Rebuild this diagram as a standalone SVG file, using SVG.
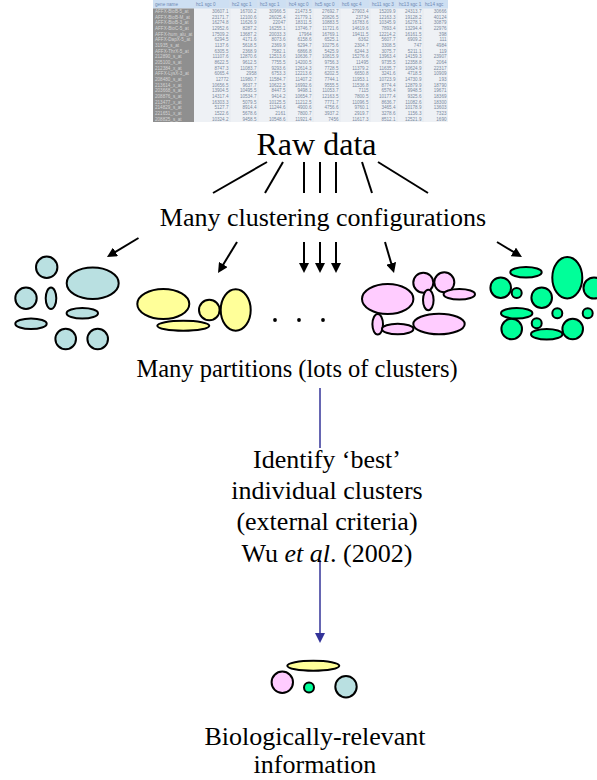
<svg xmlns="http://www.w3.org/2000/svg" width="597" height="780" viewBox="0 0 597 780">
<style>
.t{font-family:"Liberation Serif","Times New Roman",serif;fill:#000;text-anchor:middle}
.c{stroke:#000;stroke-width:2}
.ss{font-family:"Liberation Sans",Arial,sans-serif;font-size:4.6px}
.d{fill:#7a8aa0;text-anchor:end}
.n{fill:#d4d4d4}
.h{fill:#6f89b3}
.bl{fill:#b9e0e1;stroke:#000;stroke-width:2}
.ye{fill:#ffff99;stroke:#000;stroke-width:2}
.pk{fill:#ffccff;stroke:#000;stroke-width:2}
.gr{fill:#00ff99;stroke:#000;stroke-width:2}
</style>
<defs>
<marker id="ah" markerUnits="userSpaceOnUse" markerWidth="10" markerHeight="10" refX="2" refY="5" orient="auto"><path d="M0,0 L10,5 L0,10 z" fill="#000"/></marker>
<marker id="bh" markerUnits="userSpaceOnUse" markerWidth="10" markerHeight="10" refX="3" refY="5" orient="auto"><path d="M0,0 L10,5 L0,10 z" fill="#333399"/></marker>
</defs>
<rect width="597" height="780" fill="#fff"/>

<g id="rawdata-table" class="ss">
<rect x="153" y="0" width="295" height="122" fill="#eef1f5"/>
<rect x="153" y="0" width="295" height="8.5" fill="#cddff2"/>
<rect x="153" y="8.5" width="41" height="113.5" fill="#8f8f8f"/>
<g stroke="#dfe4ea" stroke-width="0.6">
<line x1="230" y1="0" x2="230" y2="122"/><line x1="258" y1="0" x2="258" y2="122"/><line x1="287" y1="0" x2="287" y2="122"/><line x1="313" y1="0" x2="313" y2="122"/><line x1="340" y1="0" x2="340" y2="122"/><line x1="370" y1="0" x2="370" y2="122"/><line x1="397" y1="0" x2="397" y2="122"/><line x1="423" y1="0" x2="423" y2="122"/>
</g>
<text class="h" y="6"><tspan x="155">gene name</tspan><tspan x="196">hc1 sgc 0</tspan><tspan x="232">hc2 sgc 1</tspan><tspan x="260">hc3 sgc 1</tspan><tspan x="289">hc4 sgc 0</tspan><tspan x="315">hc5 sgc 0</tspan><tspan x="342">hc6 sgc 4</tspan><tspan x="372">hc11 sgc 3</tspan><tspan x="399">hc13 sgc 1</tspan><tspan x="425">hc14 sgc</tspan></text>
<text class="n" x="155" y="13">AFFX-BioB-5_at</text>
<text class="n" x="155" y="18.6">AFFX-BioB-M_at</text>
<text class="n" x="155" y="24.3">AFFX-BioB-3_at</text>
<text class="n" x="155" y="30">AFFX-BioC-5_at</text>
<text class="n" x="155" y="35.7">AFFX-hum_alu_at</text>
<text class="n" x="155" y="41.3">AFFX-DapX-5_at</text>
<text class="n" x="155" y="47">31935_s_at</text>
<text class="n" x="155" y="52.7">AFFX-ThrX-5_at</text>
<text class="n" x="155" y="58.3">212890_s_at</text>
<text class="n" x="155" y="64">205100_s_at</text>
<text class="n" x="155" y="69.7">212384_x_at</text>
<text class="n" x="155" y="75.3">AFFX-LysX-3_at</text>
<text class="n" x="155" y="81">208480_s_at</text>
<text class="n" x="155" y="86.7">213614_x_at</text>
<text class="n" x="155" y="92.3">203668_s_at</text>
<text class="n" x="155" y="98">208876_s_at</text>
<text class="n" x="155" y="103.7">213477_x_at</text>
<text class="n" x="155" y="109.3">214829_s_at</text>
<text class="n" x="155" y="115">221651_x_at</text>
<text class="n" x="155" y="120.7">208825_s_at</text>
<text class="d" y="13"><tspan x="228.5">30607.1</tspan><tspan x="256.5">16700.2</tspan><tspan x="285.5">30966.5</tspan><tspan x="311.5">21473.5</tspan><tspan x="338.5">27692.7</tspan><tspan x="368.5">27903.4</tspan><tspan x="395.5">15209.9</tspan><tspan x="421.5">24313.7</tspan><tspan x="446.5">30666</tspan></text>
<text class="d" y="18.6"><tspan x="228.5">23171.7</tspan><tspan x="256.5">12100.6</tspan><tspan x="285.5">26025.4</tspan><tspan x="311.5">21779.1</tspan><tspan x="338.5">20826.5</tspan><tspan x="368.5">23734</tspan><tspan x="395.5">12163.3</tspan><tspan x="421.5">19128.2</tspan><tspan x="446.5">40124</tspan></text>
<text class="d" y="24.3"><tspan x="228.5">16274.8</tspan><tspan x="256.5">11626.9</tspan><tspan x="285.5">22047</tspan><tspan x="311.5">18311.5</tspan><tspan x="338.5">10883.5</tspan><tspan x="368.5">16783.6</tspan><tspan x="395.5">10345.9</tspan><tspan x="421.5">16278.1</tspan><tspan x="446.5">30879</tspan></text>
<text class="d" y="30"><tspan x="228.5">12952.6</tspan><tspan x="256.5">8287.2</tspan><tspan x="285.5">16255.1</tspan><tspan x="311.5">13746.7</tspan><tspan x="338.5">11721.6</tspan><tspan x="368.5">14619.6</tspan><tspan x="395.5">7893.4</tspan><tspan x="421.5">13294.4</tspan><tspan x="446.5">22976</tspan></text>
<text class="d" y="35.7"><tspan x="228.5">17509.2</tspan><tspan x="256.5">13687.2</tspan><tspan x="285.5">20033.3</tspan><tspan x="311.5">17964</tspan><tspan x="338.5">16769.1</tspan><tspan x="368.5">19411.5</tspan><tspan x="395.5">12214.2</tspan><tspan x="421.5">16161.5</tspan><tspan x="446.5">398</tspan></text>
<text class="d" y="41.3"><tspan x="228.5">6294.5</tspan><tspan x="256.5">4171.6</tspan><tspan x="285.5">8073.6</tspan><tspan x="311.5">6158.6</tspan><tspan x="338.5">6525.1</tspan><tspan x="368.5">6362</tspan><tspan x="395.5">5607.7</tspan><tspan x="421.5">6909.2</tspan><tspan x="446.5">111</tspan></text>
<text class="d" y="47"><tspan x="228.5">1137.6</tspan><tspan x="256.5">5618.5</tspan><tspan x="285.5">2369.9</tspan><tspan x="311.5">6294.7</tspan><tspan x="338.5">10275.6</tspan><tspan x="368.5">2304.7</tspan><tspan x="395.5">3308.5</tspan><tspan x="421.5">747</tspan><tspan x="446.5">4984</tspan></text>
<text class="d" y="52.7"><tspan x="228.5">6305.5</tspan><tspan x="256.5">2368.9</tspan><tspan x="285.5">7582.1</tspan><tspan x="311.5">6866.8</tspan><tspan x="338.5">5425.9</tspan><tspan x="368.5">6244.3</tspan><tspan x="395.5">3075.7</tspan><tspan x="421.5">5211.1</tspan><tspan x="446.5">119</tspan></text>
<text class="d" y="58.3"><tspan x="228.5">11107.6</tspan><tspan x="256.5">12870.6</tspan><tspan x="285.5">12513.6</tspan><tspan x="311.5">10636.7</tspan><tspan x="338.5">10815.9</tspan><tspan x="368.5">15276.6</tspan><tspan x="395.5">13963.4</tspan><tspan x="421.5">14159.3</tspan><tspan x="446.5">23907</tspan></text>
<text class="d" y="64"><tspan x="228.5">8622.5</tspan><tspan x="256.5">9612.5</tspan><tspan x="285.5">7755.5</tspan><tspan x="311.5">14200.5</tspan><tspan x="338.5">9756.3</tspan><tspan x="368.5">11495</tspan><tspan x="395.5">9735.5</tspan><tspan x="421.5">12358.8</tspan><tspan x="446.5">2064</tspan></text>
<text class="d" y="69.7"><tspan x="228.5">8747.3</tspan><tspan x="256.5">11083.7</tspan><tspan x="285.5">9293.6</tspan><tspan x="311.5">12614.3</tspan><tspan x="338.5">7728.5</tspan><tspan x="368.5">11379.2</tspan><tspan x="395.5">11635.7</tspan><tspan x="421.5">10624.9</tspan><tspan x="446.5">22317</tspan></text>
<text class="d" y="75.3"><tspan x="228.5">6065.4</tspan><tspan x="256.5">2958</tspan><tspan x="285.5">6753.3</tspan><tspan x="311.5">12213.6</tspan><tspan x="338.5">6202.5</tspan><tspan x="368.5">6650.8</tspan><tspan x="395.5">3241.6</tspan><tspan x="421.5">4718.5</tspan><tspan x="446.5">10909</tspan></text>
<text class="d" y="81"><tspan x="228.5">12772</tspan><tspan x="256.5">11980.7</tspan><tspan x="285.5">11584.7</tspan><tspan x="311.5">11407.2</tspan><tspan x="338.5">7744.1</tspan><tspan x="368.5">11953.1</tspan><tspan x="395.5">10723.9</tspan><tspan x="421.5">14730.9</tspan><tspan x="446.5">193</tspan></text>
<text class="d" y="86.7"><tspan x="228.5">10656.5</tspan><tspan x="256.5">9637.7</tspan><tspan x="285.5">10622.5</tspan><tspan x="311.5">16992.6</tspan><tspan x="338.5">9555.5</tspan><tspan x="368.5">11536.8</tspan><tspan x="395.5">8774.4</tspan><tspan x="421.5">12879.9</tspan><tspan x="446.5">18790</tspan></text>
<text class="d" y="92.3"><tspan x="228.5">13904.5</tspan><tspan x="256.5">10495.5</tspan><tspan x="285.5">8447.5</tspan><tspan x="311.5">9498.1</tspan><tspan x="338.5">11053.7</tspan><tspan x="368.5">7115</tspan><tspan x="395.5">6576.4</tspan><tspan x="421.5">9948.5</tspan><tspan x="446.5">19671</tspan></text>
<text class="d" y="98"><tspan x="228.5">14317.4</tspan><tspan x="256.5">10534.7</tspan><tspan x="285.5">9414.2</tspan><tspan x="311.5">10654.7</tspan><tspan x="338.5">12163.5</tspan><tspan x="368.5">7800.5</tspan><tspan x="395.5">10177.4</tspan><tspan x="421.5">9325.6</tspan><tspan x="446.5">18369</tspan></text>
<text class="d" y="103.7"><tspan x="228.5">16303.3</tspan><tspan x="256.5">5079.5</tspan><tspan x="285.5">10125.5</tspan><tspan x="311.5">11212.5</tspan><tspan x="338.5">7771.7</tspan><tspan x="368.5">11096.5</tspan><tspan x="395.5">8636.7</tspan><tspan x="421.5">11082.6</tspan><tspan x="446.5">18300</tspan></text>
<text class="d" y="109.3"><tspan x="228.5">5127.7</tspan><tspan x="256.5">8914.4</tspan><tspan x="285.5">11244.6</tspan><tspan x="311.5">4900.6</tspan><tspan x="338.5">4756.6</tspan><tspan x="368.5">9760.1</tspan><tspan x="395.5">3465.4</tspan><tspan x="421.5">10178.9</tspan><tspan x="446.5">13603</tspan></text>
<text class="d" y="115"><tspan x="228.5">1522.6</tspan><tspan x="256.5">5678.6</tspan><tspan x="285.5">2161</tspan><tspan x="311.5">7800.7</tspan><tspan x="338.5">3937.2</tspan><tspan x="368.5">2919.7</tspan><tspan x="395.5">3278.6</tspan><tspan x="421.5">1156.3</tspan><tspan x="446.5">7323</tspan></text>
<text class="d" y="120.7"><tspan x="228.5">10324.2</tspan><tspan x="256.5">9458.5</tspan><tspan x="285.5">10548.6</tspan><tspan x="311.5">11921.4</tspan><tspan x="338.5">7456</tspan><tspan x="368.5">11617.3</tspan><tspan x="395.5">8512.1</tspan><tspan x="421.5">12521.9</tspan><tspan x="446.5">1690</tspan></text>
</g>

<g id="raw-data"><text class="t" x="316.5" y="155" font-size="32">Raw data</text></g>
<g id="configurations"><text class="t" x="323" y="226" font-size="26">Many clustering configurations</text></g>

<g id="connectors">
<g class="c">
<line x1="267" y1="162" x2="213" y2="193"/>
<line x1="283" y1="162" x2="265" y2="193"/>
<line x1="304" y1="162" x2="304" y2="193"/>
<line x1="320" y1="162" x2="320" y2="193"/>
<line x1="336" y1="162" x2="336" y2="193"/>
<line x1="362" y1="162" x2="372" y2="193"/>
<line x1="378" y1="162" x2="428" y2="193"/>
<line x1="138.5" y1="238" x2="113.8" y2="252.9" marker-end="url(#ah)"/>
<line x1="237" y1="242" x2="222.2" y2="266.2" marker-end="url(#ah)"/>
<line x1="304" y1="242" x2="304" y2="265" marker-end="url(#ah)"/>
<line x1="320" y1="242" x2="320" y2="265" marker-end="url(#ah)"/>
<line x1="336" y1="242" x2="336" y2="265" marker-end="url(#ah)"/>
<line x1="385" y1="242" x2="391.8" y2="265.3" marker-end="url(#ah)"/>
<line x1="497" y1="242" x2="515.1" y2="252.9" marker-end="url(#ah)"/>
</g>
<line x1="320" y1="388" x2="320" y2="448" stroke="#333399" stroke-width="1.5"/>
<line x1="320" y1="560" x2="320" y2="636" stroke="#333399" stroke-width="1.5" marker-end="url(#bh)"/>
</g>

<g id="partition-blue">
<circle class="bl" cx="46.7" cy="267.3" r="10.7"/>
<ellipse class="bl" cx="92.7" cy="283.3" rx="26" ry="15.7"/>
<circle class="bl" cx="26" cy="298.3" r="10.7"/>
<ellipse class="bl" cx="51" cy="298.3" rx="5.3" ry="10.7"/>
<ellipse class="bl" cx="82.3" cy="313.3" rx="15.7" ry="5.3"/>
<ellipse class="bl" cx="31" cy="323.7" rx="15.7" ry="5.3"/>
<circle class="bl" cx="65.7" cy="339" r="10.3"/>
<circle class="bl" cx="97.7" cy="339" r="10.3"/>
</g>
<g id="partition-yellow">
<ellipse class="ye" cx="163.3" cy="304" rx="26" ry="15"/>
<ellipse class="ye" cx="183.3" cy="325.7" rx="26" ry="5"/>
<circle class="ye" cx="209.3" cy="310" r="10.3"/>
<ellipse class="ye" cx="235.7" cy="310" rx="15" ry="20.7"/>
</g>
<g id="ellipsis" fill="#000">
<circle cx="275" cy="320" r="1.9"/><circle cx="299" cy="320" r="1.9"/><circle cx="323" cy="320" r="1.9"/>
</g>
<g id="partition-pink">
<ellipse class="pk" cx="387.7" cy="299" rx="25.7" ry="15"/>
<circle class="pk" cx="423.3" cy="282.7" r="10"/>
<circle class="pk" cx="444.3" cy="282.3" r="10"/>
<ellipse class="pk" cx="428.3" cy="300" rx="5.3" ry="10.3"/>
<ellipse class="pk" cx="459.3" cy="294.3" rx="15.7" ry="5.3"/>
<ellipse class="pk" cx="377.7" cy="324.3" rx="5.3" ry="10.3"/>
<ellipse class="pk" cx="397.7" cy="329" rx="15.7" ry="5.3"/>
<ellipse class="pk" cx="439" cy="324" rx="25.7" ry="10.3"/>
</g>
<g id="partition-green">
<ellipse class="gr" cx="526" cy="272.3" rx="15.7" ry="5.3"/>
<ellipse class="gr" cx="567.3" cy="277.7" rx="15" ry="20.7"/>
<circle class="gr" cx="594" cy="288" r="10.5"/>
<circle class="gr" cx="500.7" cy="287.7" r="10.3"/>
<circle class="gr" cx="516.7" cy="293" r="5"/>
<circle class="gr" cx="541.7" cy="297.7" r="10.3"/>
<circle class="gr" cx="511.7" cy="329" r="10.3"/>
<ellipse class="gr" cx="516.7" cy="313.3" rx="15.7" ry="5.3"/>
<circle class="gr" cx="557.3" cy="313.3" r="5"/>
<circle class="gr" cx="587.7" cy="313.3" r="5"/>
<ellipse class="gr" cx="546.7" cy="334.3" rx="15.7" ry="5.3"/>
<circle class="gr" cx="536.7" cy="323.3" r="5"/>
<circle class="gr" cx="572.7" cy="329" r="10.3"/>
</g>

<g id="partitions-label"><text class="t" x="297" y="377" font-size="24.5">Many partitions (lots of clusters)</text></g>
<g id="criteria">
<text class="t" font-size="26"><tspan x="327" y="468">Identify ‘best’</tspan><tspan x="327" y="498.5">individual clusters</tspan><tspan x="327" y="530">(external criteria)</tspan><tspan x="327" y="561.5">Wu <tspan font-style="italic">et al</tspan>. (2002)</tspan></text>
</g>

<g id="selected-clusters">
<ellipse class="ye" cx="313.3" cy="665.7" rx="26" ry="5"/>
<circle class="pk" cx="282.3" cy="682.3" r="10.7"/>
<circle class="gr" cx="309" cy="687.5" r="5"/>
<circle class="bl" cx="346" cy="686.7" r="10.7"/>
</g>
<g id="bio-info"><text class="t" font-size="26"><tspan x="315" y="745">Biologically-relevant</tspan><tspan x="315" y="773">information</tspan></text></g>
</svg>
